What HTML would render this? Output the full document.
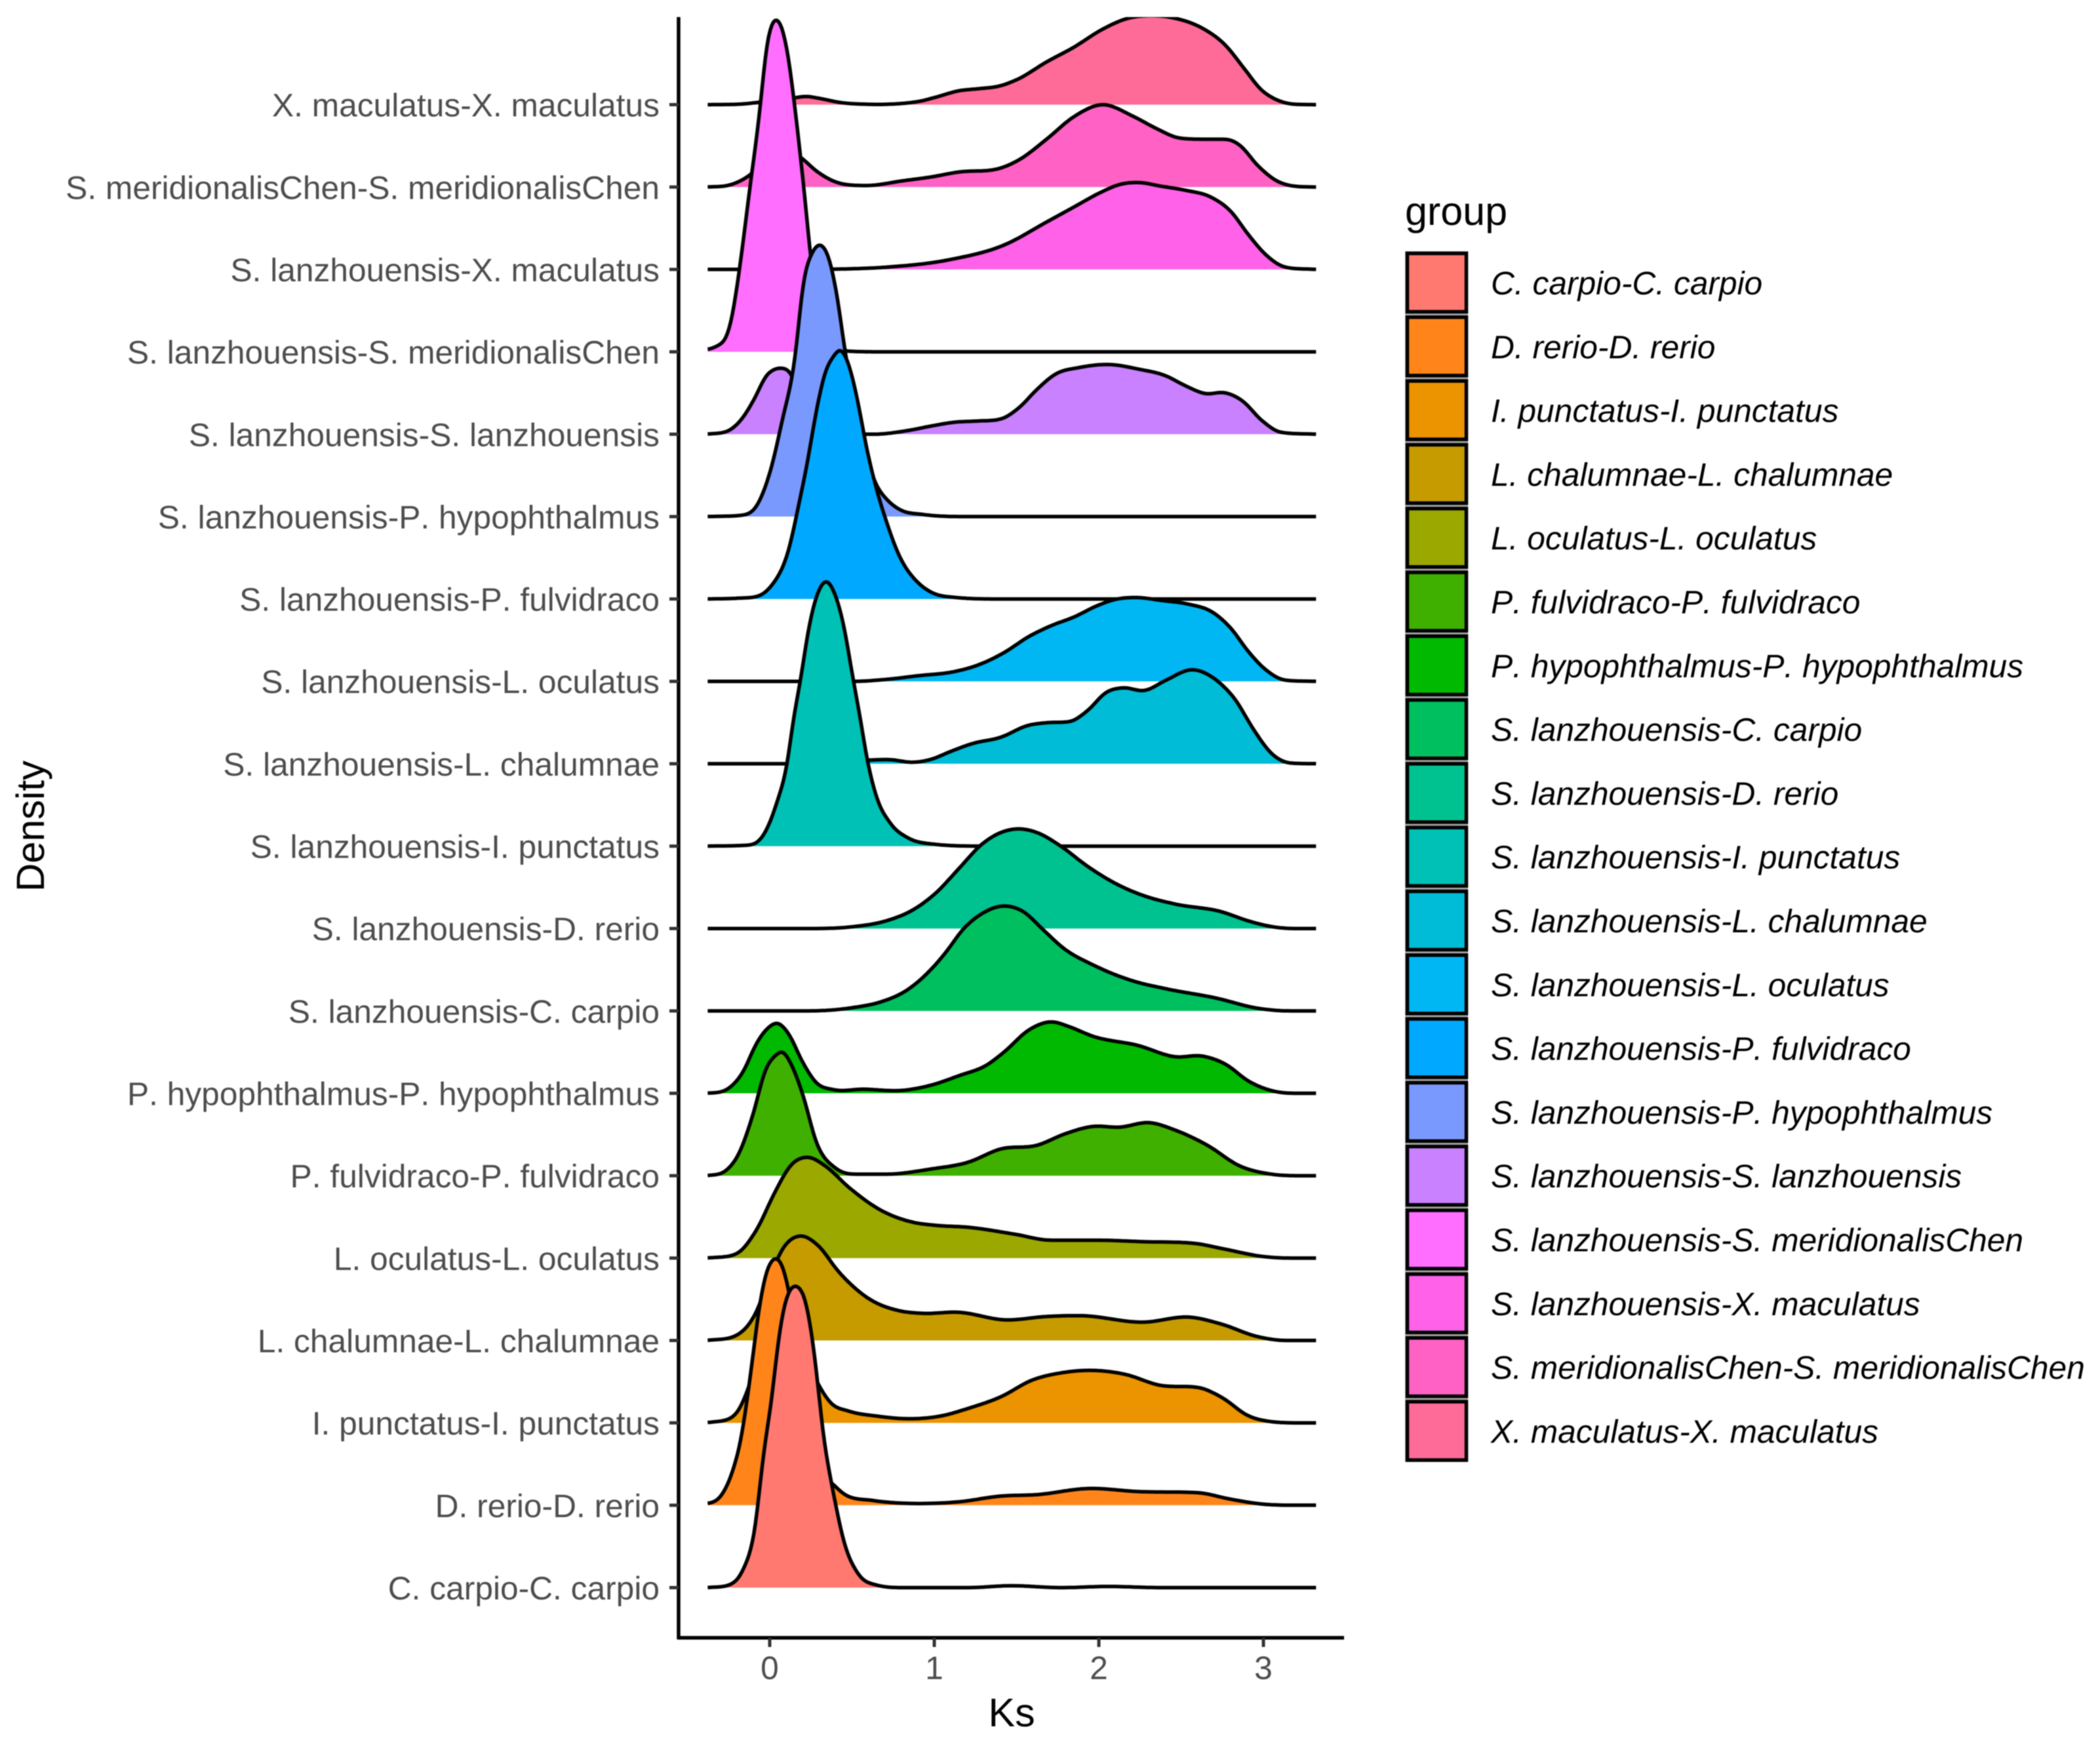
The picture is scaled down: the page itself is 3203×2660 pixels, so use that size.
<!DOCTYPE html>
<html lang="en">
<head>
<meta charset="utf-8">
<title>Ks density ridgeline plot</title>
<style>
html,body{margin:0;padding:0;background:#fff;}
svg{display:block;filter:blur(0.7px);}
text{font-family:"Liberation Sans",sans-serif;font-kerning:none;text-rendering:geometricPrecision;}
</style>
</head>
<body>
<svg id="chart" xmlns="http://www.w3.org/2000/svg" width="3203" height="2660" viewBox="0 0 3203 2660">
  <rect x="0" y="0" width="3203" height="2660" fill="#ffffff"/>
  <defs><clipPath id="panel-clip"><rect x="1000" y="26" width="1100" height="2472"/></clipPath></defs>
  <g id="ridges" clip-path="url(#panel-clip)"></g>
  <g id="axes"></g>
  <g id="legend"></g>
  <text x="1543" y="2633" font-size="61" text-anchor="middle" fill="#000">Ks</text>
  <text transform="translate(67,1260) rotate(-90)" font-size="60" text-anchor="middle" fill="#000">Density</text>
  <text x="2143" y="343" font-size="61" fill="#000">group</text>
</svg>
<script>
const categories = ["C. carpio-C. carpio","D. rerio-D. rerio","I. punctatus-I. punctatus","L. chalumnae-L. chalumnae","L. oculatus-L. oculatus","P. fulvidraco-P. fulvidraco","P. hypophthalmus-P. hypophthalmus","S. lanzhouensis-C. carpio","S. lanzhouensis-D. rerio","S. lanzhouensis-I. punctatus","S. lanzhouensis-L. chalumnae","S. lanzhouensis-L. oculatus","S. lanzhouensis-P. fulvidraco","S. lanzhouensis-P. hypophthalmus","S. lanzhouensis-S. lanzhouensis","S. lanzhouensis-S. meridionalisChen","S. lanzhouensis-X. maculatus","S. meridionalisChen-S. meridionalisChen","X. maculatus-X. maculatus"];
const fillColors = ["#FF7971","#FF851B","#EC9300","#C59B00","#9AA800","#3FB000","#00B900","#00BF5F","#00C290","#00C1B5","#00BCD6","#00B7F3","#00A9FF","#7999FF","#C981FF","#FF6EFF","#FF61E8","#FF62C4","#FF6B98"];
const xTickValues = [0,1,2,3];

const ksCarpio = [-0.377,-0.246,-0.162,-0.092,-0.036,0.006,0.061,0.117,0.168,0.215,0.271,0.327,0.383,0.453,0.536,0.648,0.816,1.207,1.458,1.765,2.045,2.38,3.32];
const densCarpio = [0,0.032,0.217,0.68,1.65,2.2,3.12,3.6,3.66,3.5,2.85,1.83,1.19,0.54,0.17,0.032,0,0,0.023,0,0.014,0,0];
const ksRerio = [-0.377,-0.302,-0.232,-0.176,-0.12,-0.064,-0.022,0.011,0.042,0.075,0.117,0.173,0.243,0.313,0.383,0.453,0.62,0.983,1.151,1.402,1.626,1.933,2.24,2.603,2.799,2.994,3.22,3.32];
const densRerio = [0.014,0.097,0.374,0.79,1.53,2.4,2.82,2.97,3.0,2.92,2.59,1.9,1,0.42,0.26,0.134,0.06,0.023,0.042,0.111,0.129,0.203,0.166,0.152,0.074,0.014,0,0];
const ksPunctatus = [-0.377,-0.218,-0.12,-0.022,0.047,0.145,0.299,0.369,0.48,0.648,0.872,1.039,1.207,1.402,1.598,1.765,1.961,2.156,2.38,2.603,2.743,2.911,3.05,3.22,3.32];
const densPunctatus = [0,0.083,0.476,1.2,1.4,1.2,0.453,0.245,0.143,0.083,0.05,0.083,0.176,0.314,0.522,0.605,0.637,0.591,0.453,0.43,0.314,0.083,0.014,0,0];
const ksChalumnae = [-0.377,-0.204,-0.078,-0.008,0.089,0.187,0.285,0.425,0.592,0.788,0.927,1.151,1.43,1.682,1.905,2.268,2.561,2.743,2.966,3.134,3.32];
const densChalumnae = [0,0.06,0.36,0.73,1.145,1.27,1.17,0.82,0.52,0.36,0.33,0.342,0.25,0.291,0.3,0.222,0.282,0.2,0.046,0,0];
const ksOculatus = [-0.377,-0.204,-0.078,0.034,0.131,0.229,0.341,0.48,0.676,0.872,1.011,1.207,1.486,1.709,1.989,2.268,2.575,2.771,2.994,3.162,3.32];
const densOculatus = [0,0.05,0.35,0.81,1.134,1.225,1.113,0.86,0.58,0.434,0.397,0.374,0.291,0.217,0.217,0.199,0.18,0.106,0.02,0,0];
const ksFulvidraco = [-0.377,-0.274,-0.19,-0.106,-0.022,0.039,0.075,0.131,0.201,0.285,0.397,0.536,0.704,0.983,1.207,1.402,1.626,1.793,1.961,2.128,2.31,2.464,2.659,2.855,3.05,3.22,3.32];
const densFulvidraco = [0,0.05,0.256,0.712,1.306,1.466,1.51,1.352,0.986,0.393,0.096,0.018,0.018,0.082,0.164,0.324,0.37,0.507,0.598,0.589,0.644,0.553,0.37,0.119,0.018,0,0];
const ksHypophthalmus = [-0.377,-0.274,-0.162,-0.078,-0.008,0.047,0.117,0.201,0.285,0.383,0.564,0.816,0.983,1.151,1.318,1.43,1.57,1.71,1.821,1.961,2.24,2.464,2.631,2.771,2.911,3.05,3.22,3.32];
const densHypophthalmus = [0,0.032,0.26,0.616,0.799,0.855,0.717,0.374,0.123,0.046,0.05,0.037,0.1,0.215,0.342,0.511,0.763,0.868,0.808,0.694,0.58,0.443,0.452,0.352,0.146,0.032,0,0];
const ksLanzCarpio = [-0.377,0.229,0.508,0.676,0.83,0.955,1.067,1.179,1.291,1.43,1.542,1.654,1.793,1.961,2.212,2.408,2.715,2.966,3.162,3.32];
const densLanzCarpio = [0,0,0.041,0.11,0.247,0.452,0.703,1,1.183,1.274,1.205,1,0.749,0.562,0.361,0.269,0.155,0.032,0,0];
const ksLanzRerio = [-0.377,0.229,0.508,0.704,0.872,1.011,1.151,1.291,1.402,1.514,1.626,1.765,1.933,2.1,2.268,2.464,2.743,2.911,3.05,3.19,3.32];
const densLanzRerio = [0,0,0.023,0.091,0.228,0.434,0.731,1.027,1.164,1.21,1.164,1.005,0.753,0.548,0.402,0.297,0.205,0.091,0.023,0,0];
const ksLanzPunctatus = [-0.377,-0.12,-0.022,0.047,0.103,0.145,0.187,0.229,0.285,0.346,0.397,0.453,0.508,0.55,0.592,0.648,0.732,0.844,0.983,1.318,3.32];
const densLanzPunctatus = [0,0.014,0.187,0.553,0.96,1.557,2.01,2.56,3.04,3.22,3.06,2.65,2.01,1.557,1.05,0.6,0.28,0.096,0.027,0,0];
const ksLanzChalumnae = [-0.377,0.117,0.369,0.62,0.732,0.872,0.983,1.095,1.235,1.402,1.57,1.682,1.821,1.933,2.045,2.142,2.282,2.408,2.575,2.715,2.827,2.939,3.05,3.162,3.32];
const densLanzChalumnae = [0,0,0.01,0.046,0.05,0.018,0.055,0.146,0.247,0.32,0.466,0.498,0.511,0.648,0.868,0.922,0.89,1.014,1.142,1.014,0.785,0.42,0.123,0.009,0];
const ksLanzOculatus = [-0.377,0.508,0.704,0.9,1.123,1.263,1.43,1.57,1.71,1.849,1.989,2.1,2.226,2.38,2.547,2.687,2.799,2.911,3.022,3.134,3.32];
const densLanzOculatus = [0,0,0.023,0.068,0.119,0.196,0.356,0.539,0.676,0.781,0.918,0.995,1.018,0.982,0.936,0.845,0.653,0.356,0.128,0.014,0];
const ksLanzFulvidraco = [-0.377,-0.19,-0.078,0.006,0.117,0.173,0.229,0.285,0.341,0.383,0.43,0.48,0.536,0.592,0.648,0.704,0.788,0.9,0.983,1.123,1.402,3.32];
const densLanzFulvidraco = [0,0.01,0.03,0.15,0.607,1.11,1.66,2.3,2.78,2.93,3.03,2.85,2.39,1.8,1.34,0.97,0.52,0.2,0.08,0.02,0,0];
const ksLanzHypophthalmus = [-0.377,-0.162,-0.078,0.006,0.075,0.159,0.201,0.257,0.313,0.363,0.411,0.458,0.536,0.592,0.648,0.704,0.788,0.927,1.207,3.32];
const densLanzHypophthalmus = [0,0.018,0.132,0.566,1.16,2,2.81,3.2,3.3,3.12,2.66,2,1.2,0.7,0.384,0.224,0.087,0.027,0,0];
const ksLanzLanz = [-0.377,-0.246,-0.162,-0.092,-0.022,0.047,0.103,0.173,0.285,0.425,0.648,0.844,0.983,1.123,1.263,1.402,1.514,1.626,1.737,1.877,2.073,2.24,2.408,2.52,2.645,2.771,2.869,2.994,3.106,3.32];
const densLanzLanz = [0,0.046,0.205,0.434,0.708,0.8,0.79,0.55,0.15,0.03,0,0.046,0.1,0.146,0.16,0.183,0.32,0.548,0.731,0.808,0.845,0.79,0.708,0.594,0.493,0.502,0.411,0.16,0.023,0];
const ksLanzMeridionalis = [-0.377,-0.302,-0.274,-0.232,-0.184,-0.12,-0.056,-0.022,0.011,0.042,0.073,0.109,0.151,0.207,0.257,0.313,0.397,0.508,0.7,3.32];
const densLanzMeridionalis = [0.023,0.091,0.137,0.388,1,2,3,3.676,3.98,4.04,3.95,3.63,3,2,1,0.36,0.07,0.005,0,0];
const ksLanzMaculatus = [-0.377,0.2,0.383,0.704,1.095,1.43,1.682,1.849,2.017,2.128,2.24,2.38,2.52,2.687,2.799,2.911,3.022,3.134,3.32];
const densLanzMaculatus = [0,0,0.003,0.027,0.119,0.301,0.575,0.758,0.941,1.032,1.055,1.009,0.963,0.872,0.712,0.416,0.164,0.027,0];
const ksMeridionalis = [-0.377,-0.246,-0.12,0.04,0.187,0.285,0.397,0.578,0.816,0.983,1.15,1.374,1.514,1.682,1.849,2.017,2.212,2.352,2.492,2.659,2.771,2.855,2.966,3.078,3.19,3.32];
const densMeridionalis = [0,0.023,0.146,0.47,0.361,0.192,0.064,0.018,0.078,0.123,0.183,0.215,0.329,0.58,0.855,1,0.855,0.708,0.594,0.58,0.58,0.511,0.26,0.078,0.01,0];
const ksMaculatus = [-0.377,-0.19,-0.06,0.145,0.215,0.31,0.425,0.59,0.9,1.01,1.15,1.26,1.4,1.51,1.68,1.85,2.02,2.18,2.3,2.46,2.63,2.77,2.88,2.99,3.08,3.19,3.32];
const densMaculatus = [0,0.005,0.03,0.08,0.1,0.073,0.027,0.005,0.037,0.091,0.169,0.192,0.228,0.311,0.516,0.699,0.913,1.05,1.08,1.05,0.927,0.721,0.447,0.174,0.059,0.005,0];

const seriesKs = [ksCarpio,ksRerio,ksPunctatus,ksChalumnae,ksOculatus,ksFulvidraco,ksHypophthalmus,ksLanzCarpio,ksLanzRerio,ksLanzPunctatus,ksLanzChalumnae,ksLanzOculatus,ksLanzFulvidraco,ksLanzHypophthalmus,ksLanzLanz,ksLanzMeridionalis,ksLanzMaculatus,ksMeridionalis,ksMaculatus];
const seriesDensity = [densCarpio,densRerio,densPunctatus,densChalumnae,densOculatus,densFulvidraco,densHypophthalmus,densLanzCarpio,densLanzRerio,densLanzPunctatus,densLanzChalumnae,densLanzOculatus,densLanzFulvidraco,densLanzHypophthalmus,densLanzLanz,densLanzMeridionalis,densLanzMaculatus,densMeridionalis,densMaculatus];

const NS = 'http://www.w3.org/2000/svg';
function xScale(ks){ return 1174 + 251 * ks; }
function rowBase(row){ return 2421.5 - 125.66 * row; }
function yScale(row, d){ return rowBase(row) - 125.66 * d; }
function slug(s){ return s.toLowerCase().replace(/[^a-z]+/g,'-'); }

/* smooth curve through the read values: C1 Hermite spline, then a light kernel */
function smoothCurve(xs, ys){
  const n = xs.length, m = new Array(n), s = new Array(n-1);
  for(let i=0;i<n-1;i++){ s[i] = (ys[i+1]-ys[i])/(xs[i+1]-xs[i]); }
  m[0] = s[0]; m[n-1] = s[n-2];
  for(let i=1;i<n-1;i++){
    const h0 = xs[i]-xs[i-1], h1 = xs[i+1]-xs[i];
    let t = (h1*s[i-1]+h0*s[i])/(h0+h1);
    const p = s[i-1]*s[i];
    if(p === 0){ t = 0; }
    else if(p > 0){
      const lim = 3*Math.min(Math.abs(s[i-1]),Math.abs(s[i]));
      if(Math.abs(t) > lim){ t = Math.sign(t)*lim; }
    }
    m[i] = t;
  }
  const step = 0.005, raw = [], rx = [];
  let k = 0;
  for(let x = xs[0]; x < xs[n-1]; x += step){
    while(k < n-2 && x > xs[k+1]){ k++; }
    const h = xs[k+1]-xs[k], u = (x-xs[k])/h;
    const u2 = u*u, u3 = u2*u;
    const y = (2*u3-3*u2+1)*ys[k] + (u3-2*u2+u)*h*m[k] + (-2*u3+3*u2)*ys[k+1] + (u3-u2)*h*m[k+1];
    rx.push(x); raw.push(Math.max(0,y));
  }
  rx.push(xs[n-1]); raw.push(ys[n-1]);
  const sigma = 3, out = [];
  for(let i=0;i<raw.length;i++){
    let sum = 0, w = 0;
    for(let j=-9;j<=9;j++){
      const q = i+j;
      if(q<0 || q>=raw.length){ continue; }
      const g = Math.exp(-j*j/(2*sigma*sigma));
      sum += g*raw[q]; w += g;
    }
    out.push(sum/w);
  }
  return {x:rx, y:out};
}

const ridges = document.getElementById('ridges');
for(let row = categories.length-1; row >= 0; row--){
  const c = smoothCurve(seriesKs[row], seriesDensity[row]);
  let top = '';
  for(let i=0;i<c.x.length;i+=2){
    top += (i===0?'M':'L') + xScale(c.x[i]).toFixed(1) + ' ' + yScale(row,c.y[i]).toFixed(1);
  }
  const lastX = xScale(c.x[c.x.length-1]);
  top += 'L' + lastX.toFixed(1) + ' ' + yScale(row,c.y[c.y.length-1]).toFixed(1);
  const base = rowBase(row);
  const area = document.createElementNS(NS,'path');
  
  
  area.setAttribute('d', top + 'L' + lastX.toFixed(1) + ' ' + base.toFixed(1) + 'L' + xScale(c.x[0]).toFixed(1) + ' ' + base.toFixed(1) + 'Z');
  area.setAttribute('fill', fillColors[row]);
  ridges.appendChild(area);
  const line = document.createElementNS(NS,'path');
  
  
  line.setAttribute('d', top);
  line.setAttribute('fill', 'none');
  line.setAttribute('stroke', '#000');
  line.setAttribute('stroke-width', '5.5');
  line.setAttribute('stroke-linejoin', 'round');
  ridges.appendChild(line);
}

const axes = document.getElementById('axes');
const yAxisLine = document.createElementNS(NS,'line');


yAxisLine.setAttribute('x1', '1035'); yAxisLine.setAttribute('x2', '1035');
yAxisLine.setAttribute('y1', '26'); yAxisLine.setAttribute('y2', '2500');
yAxisLine.setAttribute('stroke', '#000'); yAxisLine.setAttribute('stroke-width', '5.5');
axes.appendChild(yAxisLine);
const xAxisLine = document.createElementNS(NS,'line');


xAxisLine.setAttribute('x1', '1033'); xAxisLine.setAttribute('x2', '2050');
xAxisLine.setAttribute('y1', '2498'); xAxisLine.setAttribute('y2', '2498');
xAxisLine.setAttribute('stroke', '#000'); xAxisLine.setAttribute('stroke-width', '5.5');
axes.appendChild(xAxisLine);

xTickValues.forEach(function(v){
  const tick = document.createElementNS(NS,'line');
  
  
  tick.setAttribute('x1', xScale(v)); tick.setAttribute('x2', xScale(v));
  tick.setAttribute('y1', '2498'); tick.setAttribute('y2', '2512');
  tick.setAttribute('stroke', '#333'); tick.setAttribute('stroke-width', '5');
  axes.appendChild(tick);
  const label = document.createElementNS(NS,'text');
  
  
  label.setAttribute('x', xScale(v)); label.setAttribute('y', '2561');
  label.setAttribute('font-size', '49.7'); label.setAttribute('text-anchor', 'middle');
  label.setAttribute('fill', '#4d4d4d');
  label.textContent = String(v);
  axes.appendChild(label);
});

categories.forEach(function(name, row){
  const tick = document.createElementNS(NS,'line');
  
  
  tick.setAttribute('x1', '1021'); tick.setAttribute('x2', '1035');
  tick.setAttribute('y1', rowBase(row)); tick.setAttribute('y2', rowBase(row));
  tick.setAttribute('stroke', '#333'); tick.setAttribute('stroke-width', '5');
  axes.appendChild(tick);
  const label = document.createElementNS(NS,'text');
  
  
  label.setAttribute('x', '1006'); label.setAttribute('y', rowBase(row) + 18);
  label.setAttribute('font-size', '49.7'); label.setAttribute('text-anchor', 'end');
  label.setAttribute('fill', '#4d4d4d');
  label.textContent = name;
  axes.appendChild(label);
});

const legend = document.getElementById('legend');
const legendBack = document.createElementNS(NS,'rect');


legendBack.setAttribute('x', '2143'); legendBack.setAttribute('y', '383');
legendBack.setAttribute('width', '96'); legendBack.setAttribute('height', '1847');
legendBack.setAttribute('fill', '#aaaaaa');
legend.appendChild(legendBack);
categories.forEach(function(name, i){
  const cy = 431 + 97.3 * i;
  const key = document.createElementNS(NS,'rect');
  
  
  key.setAttribute('x', '2146.5'); key.setAttribute('y', cy - 44.5);
  key.setAttribute('width', '90'); key.setAttribute('height', '89');
  key.setAttribute('fill', fillColors[i]);
  key.setAttribute('stroke', '#000'); key.setAttribute('stroke-width', '5.5');
  legend.appendChild(key);
  const label = document.createElementNS(NS,'text');
  
  
  label.setAttribute('x', '2274'); label.setAttribute('y', cy + 18);
  label.setAttribute('font-size', '49.7'); label.setAttribute('font-style', 'italic');
  label.setAttribute('fill', '#000');
  label.textContent = name;
  legend.appendChild(label);
});
</script>
</body>
</html>
